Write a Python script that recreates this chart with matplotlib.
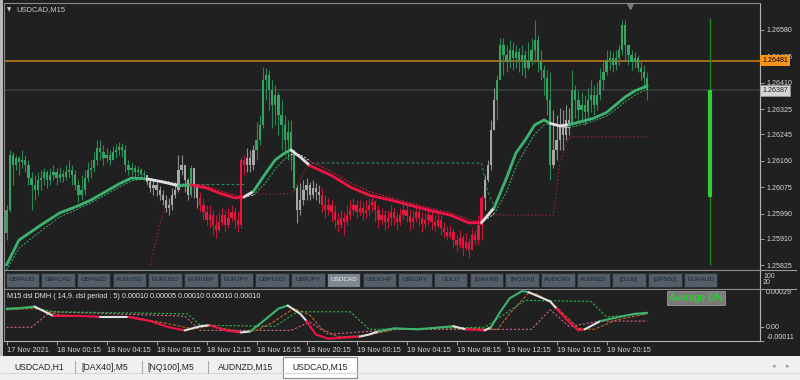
import numpy as np
import matplotlib.pyplot as plt
from matplotlib.patches import Rectangle
from matplotlib.lines import Line2D

plt.rcParams['font.family'] = ['Liberation Sans', 'DejaVu Sans']

# ---- price data, points above 1.25000 (1 point = 0.00001), M15 bars from 17 Nov 20:15 ----
first_open = 930
close = [1002, 1179, 1147, 1169, 1156, 1163, 1147, 1105, 1083, 1067,
         1099, 1105, 1124, 1099, 1115, 1124, 1105, 1118, 1108, 1124,
         1131, 1115, 1083, 1050, 1067, 1105, 1131, 1137, 1163, 1201,
         1188, 1169, 1179, 1163, 1188, 1195, 1204, 1195, 1147, 1131,
         1137, 1124, 1131, 1118, 1115, 1092, 1073, 1083, 1067, 1050,
         1034, 1009, 1018, 1050, 1067, 1131, 1147, 1099, 1050, 1137,
         1083, 1041, 1018, 996, 970, 986, 954, 938, 964, 986,
         954, 977, 996, 970, 954, 1163, 1147, 1169, 1147, 1195,
         1227, 1275, 1419, 1435, 1387, 1339, 1371, 1307, 1275, 1227,
         1253, 1195, 1073, 1002, 1034, 1067, 1083, 1050, 1073, 1060,
         1050, 1018, 1002, 1018, 996, 970, 954, 977, 964, 986,
         1002, 1018, 996, 1009, 993, 1002, 1018, 1028, 1002, 970,
         986, 964, 977, 996, 977, 964, 986, 1002, 983, 964,
         977, 996, 977, 957, 970, 986, 964, 951, 970, 945,
         932, 919, 932, 906, 890, 912, 880, 900, 874, 922,
         906, 954, 1041, 1099, 1147, 1259, 1355, 1419, 1532, 1500,
         1477, 1516, 1490, 1509, 1484, 1500, 1458, 1484, 1516, 1548,
         1477, 1451, 1426, 1355, 1147, 1195, 1227, 1275, 1243, 1291,
         1275, 1387, 1355, 1323, 1339, 1317, 1355, 1371, 1339, 1371,
         1419, 1445, 1484, 1490, 1468, 1490, 1516, 1596, 1532, 1500,
         1477, 1490, 1458, 1445, 1426, 1387]
high = [1018, 1195, 1188, 1179, 1176, 1195, 1179, 1163, 1124, 1115,
        1124, 1131, 1137, 1131, 1137, 1147, 1137, 1140, 1131, 1147,
        1163, 1147, 1131, 1099, 1115, 1131, 1156, 1163, 1188, 1227,
        1227, 1211, 1201, 1195, 1208, 1214, 1220, 1217, 1211, 1163,
        1156, 1147, 1143, 1137, 1131, 1115, 1105, 1099, 1092, 1079,
        1067, 1050, 1041, 1073, 1092, 1179, 1179, 1137, 1105, 1147,
        1124, 1083, 1060, 1041, 1018, 1018, 1002, 986, 996, 1009,
        1002, 1009, 1018, 1009, 996, 1172, 1179, 1201, 1195, 1211,
        1285, 1307, 1461, 1458, 1451, 1419, 1403, 1381, 1355, 1307,
        1291, 1291, 1195, 1083, 1089, 1099, 1105, 1092, 1099, 1089,
        1083, 1073, 1050, 1041, 1034, 1018, 996, 1002, 996, 1018,
        1034, 1041, 1034, 1034, 1028, 1034, 1041, 1050, 1034, 1018,
        1009, 1002, 1002, 1018, 1009, 996, 1009, 1028, 1018, 1002,
        1002, 1018, 1009, 996, 993, 1012, 1002, 986, 996, 986,
        964, 951, 954, 945, 922, 938, 922, 929, 912, 945,
        938, 986, 1050, 1115, 1163, 1291, 1394, 1435, 1554, 1554,
        1532, 1548, 1541, 1532, 1522, 1532, 1516, 1541, 1554, 1612,
        1564, 1516, 1468, 1451, 1445, 1323, 1307, 1330, 1323, 1339,
        1330, 1451, 1403, 1387, 1381, 1371, 1394, 1419, 1403, 1413,
        1458, 1477, 1516, 1516, 1509, 1516, 1532, 1612, 1612, 1532,
        1516, 1509, 1500, 1484, 1468, 1445]
low = [906, 996, 1083, 1131, 1115, 1137, 1124, 1083, 1002, 1034,
       1050, 1067, 1083, 1073, 1083, 1099, 1083, 1092, 1092, 1099,
       1105, 1083, 1067, 1028, 1034, 1050, 1092, 1105, 1124, 1147,
       1163, 1147, 1156, 1147, 1163, 1169, 1179, 1172, 1124, 1115,
       1115, 1108, 1111, 1105, 1099, 1083, 1060, 1050, 1047, 1034,
       1018, 996, 986, 1002, 1041, 1060, 1115, 1060, 1034, 1044,
       1041, 1009, 996, 970, 954, 945, 922, 912, 932, 954,
       932, 945, 964, 945, 932, 945, 1115, 1124, 1124, 1131,
       1163, 1211, 1265, 1355, 1323, 1265, 1275, 1243, 1195, 1179,
       1163, 1131, 1067, 961, 986, 1018, 1034, 1034, 1041, 1034,
       1025, 996, 977, 986, 964, 945, 932, 945, 922, 954,
       970, 986, 977, 986, 970, 977, 986, 996, 964, 945,
       954, 938, 945, 954, 954, 938, 954, 970, 964, 938,
       945, 964, 951, 932, 945, 954, 938, 932, 945, 922,
       912, 906, 912, 880, 868, 880, 855, 874, 848, 880,
       890, 890, 906, 1002, 1092, 1131, 1259, 1291, 1426, 1435,
       1445, 1458, 1451, 1458, 1445, 1435, 1426, 1451, 1468, 1477,
       1445, 1419, 1371, 1307, 1099, 1137, 1163, 1195, 1195, 1227,
       1243, 1275, 1297, 1285, 1291, 1275, 1297, 1317, 1307, 1323,
       1355, 1387, 1435, 1451, 1445, 1451, 1468, 1500, 1484, 1468,
       1451, 1458, 1445, 1419, 1394, 1355]
# trend colouring of the candles: (state, number of bars)
candle_runs = [('g', 45), ('w', 14), ('g', 1), ('w', 2), ('r', 15), ('w', 3), ('g', 13),
               ('w', 8), ('r', 52), ('w', 4), ('g', 18), ('w', 6), ('g', 25)]

# smoothed trend line and its lagging dashed copy
ma_bar = [0, 4, 11, 17, 22, 27, 31, 36, 40, 45, 51, 55, 59, 64, 68, 73, 76, 79, 83, 86,
          89, 91, 94, 97, 104, 110, 116, 123, 129, 135, 142, 148, 152, 156, 160, 163, 166,
          169, 172, 174, 177, 180, 184, 188, 192, 195, 198, 201, 205]
ma_val = [826, 906, 954, 993, 1012, 1034, 1057, 1086, 1105, 1102, 1090, 1080, 1083, 1073,
          1057, 1041, 1044, 1062, 1121, 1163, 1185, 1195, 1172, 1145, 1113, 1076, 1050, 1034,
          1018, 1002, 986, 961, 962, 1009, 1105, 1185, 1227, 1275, 1291, 1280, 1272, 1276,
          1286, 1297, 1315, 1340, 1365, 1384, 1400]
sig_val = [810, 880, 935, 980, 1002, 1025, 1047, 1075, 1096, 1104, 1094, 1085, 1086, 1080,
           1066, 1050, 1045, 1050, 1090, 1135, 1165, 1180, 1180, 1160, 1125, 1090, 1062, 1042,
           1026, 1010, 994, 972, 962, 990, 1060, 1140, 1195, 1245, 1275, 1280, 1270, 1266,
           1276, 1288, 1303, 1325, 1350, 1370, 1390]
ma_state = 'ggggggggg' + 'ww' + 'g' + 'rrrr' + 'w' + 'gggg' + 'ww' + 'rrrrrrrrr' + 'w' + 'gggggg' + 'ww' + 'ggggggg'

# stepped levels (bar, points)
green_levels = [([59, 76], [1086, 1086]),
                ([96, 152, 154, 156], [1153, 1153, 1060, 1018])]
red_levels = [([46, 49, 51, 54, 56], [826, 954, 1018, 1060, 1083]),
              ([76, 91, 94, 96], [1054, 1054, 1099, 1143]),
              ([152, 175, 177, 180, 205], [986, 986, 1153, 1237, 1237])]

ask_price = 1.26481
bid_price = 1.26387
range_top, range_hi, range_lo, range_bottom = 1618, 1387, 1044, 827

price_ticks = [1.26580, 1.26495, 1.26410, 1.26325, 1.26245, 1.26160, 1.26075, 1.25990, 1.25910, 1.25825]
time_labels = ['17 Nov 2021', '18 Nov 00:15', '18 Nov 04:15', '18 Nov 08:15', '18 Nov 12:15',
               '18 Nov 16:15', '18 Nov 20:15', '19 Nov 00:15', '19 Nov 04:15', '19 Nov 08:15',
               '19 Nov 12:15', '19 Nov 16:15', '19 Nov 20:15']

# ---- DMH sub window, values in 0.00001 ----
dmh_bar = [0, 4, 9, 15, 23, 30, 39, 46, 52, 57, 62, 65, 70, 75, 78, 83, 87, 90, 94, 96,
           99, 103, 108, 113, 116, 119, 124, 132, 139, 143, 147, 153, 155, 158, 161, 165, 167,
           174, 176, 180, 183, 185, 190, 196, 201, 205]
dmh_val = [13.8, 14.2, 15.4, 8.2, 8.2, 7.4, 7.4, 4.2, -0.6, -3.0, 0.2, 1.0, -3.0, -4.6, -3.8,
           5.8, 13.8, 16.2, 9.8, 4.2, -6.2, -9.4, -8.6, -7.8, -6.2, -3.8, -1.4, -2.2, -0.6, 0.2,
           -2.2, -3.0, -0.6, 11.4, 21.8, 27.4, 26.6, 19.4, 13.8, 3.4, -3.0, -2.2, 4.2, 7.4, 9.8, 10.6]
dmh_state = 'ggwrrwrrrwwrrwgggwwrrrrwwggggwrwggggwwrrrwggg'
dmh_sig_bar = [0, 9, 15, 58, 62, 86, 93, 110, 116, 153, 166, 187, 192, 205]
dmh_sig_val = [13.0, 14.6, 11.4, 9.8, 1.0, 0.2, 11.4, 11.4, -2.2, -0.6, 20.2, 19.4, 7.4, 9.8]
dmh_pink_bar = [0, 8, 14, 57, 62, 91, 97, 103, 125, 168, 174, 180, 190, 205]
dmh_pink_val = [-0.6, -0.6, 11.4, 8.0, -3.0, -3.0, 3.4, -6.0, -2.2, -2.2, 13.0, 0.0, 4.2, 4.2]
dmh_brown_bar = [0, 9, 17, 25, 40, 50, 60, 65, 75, 80, 85, 92, 97, 101, 106, 115, 125, 140,
                 150, 157, 161, 167, 170, 176, 183, 188, 195, 205]
dmh_brown_val = [13.0, 14.0, 9.0, 8.0, 7.4, 3.0, -2.0, 0.5, -4.0, -3.0, 3.0, 14.0, 9.0, -2.0,
                 -8.0, -7.0, -2.0, -1.0, -1.5, -2.5, 10.0, 25.8, 25.0, 15.0, -1.4, -2.2, 5.0, 9.8]
dmh_label = 'M15 dsl DMH ( 14,9. dsl period : 5) 0.00010 0.00005 0.00010 0.00010 0.00010'

symbols = ['GBPAUD', 'GBPCAD', 'GBPNZD', 'AUDUSD', 'EURUSD', 'EURGBP', 'EURJPY', 'GBPUSD',
           'GBPJPY', 'USDCAD', 'USDCHF', 'USDJPY', 'GOLD', '[DAX40]', '[NQ100]', 'AUDCAD',
           'AUDNZD', '[DJ30]', '[SP500]', 'EURAUD']
active_symbol = 'USDCAD'
tabs = ['USDCAD,H1', '[DAX40],M5', '[NQ100],M5', 'AUDNZD,M15', 'USDCAD,M15']

BG = '#202020'
BODY_COL = {'g': '#33a463', 'w': '#a8a8a8', 'r': '#e3173f'}
WICK_COL = {'g': '#2a8a55', 'w': '#8e8e8e', 'r': '#c81438'}
LINE_COL = {'g': '#3cb371', 'w': '#e0e0e0', 'r': '#f01446'}
W, H = 800, 380


def fx(px):
    return px / W


def fy(py):
    return 1 - py / H


def pts(v):
    return 1.25 + np.asarray(v, dtype=float) * 1e-5


def colored_line(axis, xs, ys, states, colors, **kw):
    # draw runs of equal state as one polyline
    i = 0
    while i < len(states):
        j = i
        while j + 1 < len(states) and states[j + 1] == states[i]:
            j += 1
        axis.plot(xs[i:j + 2], ys[i:j + 2], color=colors[states[i]], **kw)
        i = j + 1


fig = plt.figure(figsize=(8, 3.8), dpi=100, facecolor=BG)

xlim = (-0.8, 241.1)
ax = fig.add_axes([fx(4), fy(270), fx(756), fy(3) - fy(270)])
ax.set_facecolor(BG)
ax.set_xlim(*xlim)
ax.set_ylim(1.25810, 1.26666)

# candles
x = np.arange(len(close))
c = pts(close)
o = np.r_[pts(first_open), c[:-1]]
hi, lo = pts(high), pts(low)
states = np.array(list(''.join(s * n for s, n in candle_runs)))
body_b = np.minimum(o, c)
body_h = np.maximum(np.abs(c - o), 1.5e-5)
for st in BODY_COL:
    m = states == st
    ax.vlines(x[m], lo[m], hi[m], color=WICK_COL[st], lw=0.8, zorder=2)
    ax.bar(x[m], body_h[m], bottom=body_b[m], width=0.72, color=BODY_COL[st], linewidth=0,
           zorder=2)

# levels
for bx, bv in green_levels:
    ax.plot(bx, pts(bv), color='#2e8b57', lw=0.8, dashes=(2.5, 2), zorder=1.5)
for bx, bv in red_levels:
    ax.plot(bx, pts(bv), color='#a8203c', lw=0.8, dashes=(1.2, 2), zorder=1.5)

# trend line
colored_line(ax, ma_bar, pts(sig_val), ma_state, LINE_COL, lw=0.7, dashes=(2, 1.6), zorder=3)
colored_line(ax, ma_bar, pts(ma_val), ma_state, LINE_COL, lw=2.0, solid_capstyle='round', zorder=4)

# price lines
ax.axhline(ask_price, color='#c8841c', lw=1.1, zorder=1)
ax.axhline(bid_price, color='#3c3c3c', lw=1.1, zorder=1)

# range bar on the right
rx = 225
ax.vlines(rx, pts(range_bottom), pts(range_top), color='#1f8a1f', lw=1.0, zorder=3)
ax.vlines(rx, pts(range_lo), pts(range_hi), color='#32cd32', lw=3.0, zorder=4)

# shift marker
ax.plot([199.5], [0.99], marker='v', color='#7a7a7a', ms=5, transform=ax.get_xaxis_transform(),
        clip_on=False)

ax.set_xticks([])
ax.yaxis.tick_right()
ax.set_yticks(price_ticks)
ax.set_yticklabels(['%.5f' % p for p in price_ticks])
ax.tick_params(axis='y', length=3, width=0.6, color='#b4b4b4', labelsize=5.1,
               labelcolor='#d8d8d8', pad=1.5)
for sp in ['left', 'top']:
    ax.spines[sp].set_color('#8a8a8a')
ax.spines['right'].set_color('#b4b4b4')
ax.spines['bottom'].set_color('#8a8a8a')
for sp in ax.spines.values():
    sp.set_linewidth(0.8)

ytr = ax.get_yaxis_transform()
ax.text(1.003, ask_price, '%.5f' % ask_price, transform=ytr, fontsize=5.1, va='center',
        ha='left', color='black', clip_on=False, zorder=10,
        bbox=dict(boxstyle='square,pad=0.28', fc='#f7941d', ec='none'))
ax.text(1.003, bid_price, '%.5f' % bid_price, transform=ytr, fontsize=5.1, va='center',
        ha='left', color='#202020', clip_on=False, zorder=10,
        bbox=dict(boxstyle='square,pad=0.28', fc='#d4d4d4', ec='#9a9a9a', lw=0.5))
ax.text(0.004, 0.975, '\u25bc', transform=ax.transAxes, fontsize=4, color='#c8c8c8',
        va='center', ha='left', family='DejaVu Sans')
ax.text(0.016, 0.975, 'USDCAD,M15', transform=ax.transAxes, fontsize=5.5, color='#c8c8c8',
        va='center', ha='left')

# ---- symbol buttons window ----
ax_b = fig.add_axes([fx(4), fy(289), fx(756), fy(270) - fy(289)])
ax_b.set_facecolor(BG)
ax_b.set_xlim(0, 756)
ax_b.set_ylim(0, 19)
ax_b.set_xticks([])
ax_b.set_yticks([])
for sp in ax_b.spines.values():
    sp.set_color('#8a8a8a')
    sp.set_linewidth(0.8)
ax_b.spines['right'].set_color('#b4b4b4')
for i, s in enumerate(symbols):
    on = s == active_symbol
    x0 = 1.5 + i * 35.7
    ax_b.add_patch(Rectangle((x0, 2.5), 33.5, 14, fc='#7e8893' if on else '#545e69',
                             ec='#2c3034', lw=0.8))
    ax_b.text(x0 + 16.75, 9.5, s, fontsize=4.6, ha='center', va='center',
              color='#eeeeee' if on else '#1d232a')
fig.text(fx(763), fy(276), '100', fontsize=5, color='#d0d0d0', va='center')
fig.text(fx(763), fy(283), '20', fontsize=5, color='#d0d0d0', va='center')

# ---- DMH window ----
ax2 = fig.add_axes([fx(4), fy(341), fx(756), fy(289) - fy(341)])
ax2.set_facecolor(BG)
ax2.set_xlim(*xlim)
ax2.set_ylim(-0.000112, 0.00029)
ax2.plot(dmh_pink_bar, np.array(dmh_pink_val) * 1e-5, color='#c8648a', lw=0.8, dashes=(2, 1.6))
ax2.plot(dmh_brown_bar, np.array(dmh_brown_val) * 1e-5, color='#b8602c', lw=0.8, dashes=(3, 1.2))
ax2.plot(dmh_sig_bar, np.array(dmh_sig_val) * 1e-5, color='#2fb24c', lw=0.8, dashes=(2, 1.6))
colored_line(ax2, dmh_bar, np.array(dmh_val) * 1e-5, dmh_state, LINE_COL, lw=1.5,
             solid_capstyle='round')

ax2.yaxis.tick_right()
ax2.set_yticks([0.00029, 0.0, -0.00011])
ax2.set_yticklabels(['0.00029', '0.00', '-0.00011'])
ax2.tick_params(axis='y', length=3, width=0.6, color='#b4b4b4', labelsize=5.1,
                labelcolor='#d8d8d8', pad=1.5)
labs = ax2.get_yticklabels()
labs[0].set_va('top')
labs[2].set_va('bottom')

ax2.set_xticks(np.arange(0, 16 * len(time_labels), 16))
ax2.set_xticklabels(time_labels)
ax2.tick_params(axis='x', direction='out', length=3, width=0.6, color='#b4b4b4',
                labelsize=5.3, labelcolor='#d8d8d8', pad=1.5)
for lab in ax2.get_xticklabels():
    lab.set_ha('left')
for sp in ax2.spines.values():
    sp.set_color('#8a8a8a')
    sp.set_linewidth(0.8)
ax2.spines['right'].set_color('#b4b4b4')
ax2.spines['bottom'].set_color('#b4b4b4')

ax2.text(0.004, 0.86, dmh_label, transform=ax2.transAxes, fontsize=5.2, color='#e8e8e8',
         va='center', ha='left')
fig.text(fx(696), fy(298), 'Average ON', fontsize=7, color='#22e02a', ha='center', va='center',
         bbox=dict(boxstyle='square,pad=0.22', fc='#7a7a7a', ec='#9a9a9a', lw=0.6))

# separators through the price scale
for yy in (270, 289):
    fig.add_artist(Line2D([fx(760), fx(796)], [fy(yy), fy(yy)], color='#9a9a9a', lw=0.8))

# ---- window frame and tab bar ----
fig.patches.append(Rectangle((0, fy(356)), fx(3), 1 - fy(356), transform=fig.transFigure,
                             fc='#b8b8b8', ec='none'))
fig.patches.append(Rectangle((0, 0), 1, fy(356), transform=fig.transFigure,
                             fc='#f0f0f0', ec='none'))
fig.add_artist(Line2D([0, 1], [fy(373), fy(373)], color='#d8d8d8', lw=0.8))
tab_centers = [39, 105, 171, 246, 320]
for sx in (75, 142, 208):
    fig.add_artist(Line2D([fx(sx), fx(sx)], [fy(373), fy(361)], color='#a8a8a8', lw=0.8))
fig.patches.append(Rectangle((fx(283), fy(378)), fx(74), fy(357) - fy(378),
                             transform=fig.transFigure, fc='white', ec='#8c8c8c', lw=0.8))
for t, cx in zip(tabs, tab_centers):
    fig.text(fx(cx), fy(367), t, fontsize=6.2, color='#202020', ha='center', va='center')
fig.text(fx(774), fy(366), '\u25c2', fontsize=5, color='#9a9a9a', ha='center', va='center',
         family='DejaVu Sans')
fig.text(fx(788), fy(366), '\u25b8', fontsize=5, color='#9a9a9a', ha='center', va='center',
         family='DejaVu Sans')

fig.savefig('out.png', dpi=100, facecolor=fig.get_facecolor())
